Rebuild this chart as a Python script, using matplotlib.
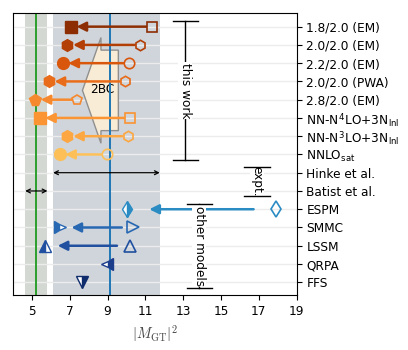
import matplotlib
matplotlib.use('Agg')
import matplotlib.pyplot as plt
from matplotlib.patches import Polygon
import numpy as np

plt.rcParams['mathtext.fontset'] = 'cm'

labels = ['1.8/2.0 (EM)', '2.0/2.0 (EM)', '2.2/2.0 (EM)', '2.0/2.0 (PWA)',
          '2.8/2.0 (EM)', r'NN-N$^\mathregular{4}$LO+3N$_\mathregular{lnl}$',
          r'NN-N$^\mathregular{3}$LO+3N$_\mathregular{lnl}$',
          r'NNLO$_\mathregular{sat}$', 'Hinke et al.', 'Batist et al.',
          'ESPM', 'SMMC', 'LSSM', 'QRPA', 'FFS']

# this work: without 2BC (open) -> with 2BC (filled)
work_no2bc = [11.33, 10.73, 10.12, 9.94, 7.40, 10.18, 10.07, 8.95]
work_2bc = [7.06, 6.88, 6.63, 5.90, 5.17, 5.40, 6.88, 6.46]
work_markers = ['s', 'h', 'o', 'h', 'p', 's', 'h', 'o']
work_colors = ['#8c2d04', '#b33f06', '#d9560d', '#e86c1a', '#f6892e',
               '#fb9433', '#fca741', '#fdc058']

# experiment
hinke_lo, hinke_hi, hinke_val = 6.12, 11.76, 9.13
batist_lo, batist_hi, batist_val = 4.64, 5.82, 5.23

# other models
other_rows = [10, 11, 12, 13, 14]
other_bare = [17.9, 10.34, 10.16, np.nan, np.nan]
other_quenched = [10.03, 6.50, 5.70, 8.97, 7.63]
other_markers = ['d', '>', '^', '<', 'v']
other_fill = ['right', 'left', 'left', 'right', 'right']
other_colors = ['#2b8cc4', '#2868b2', '#20509f', '#1c3c8c', '#0f2c6c']
other_shrink = [16, 8, 9, 0, 0]

fig = plt.figure(figsize=(4.08, 3.5), dpi=100)
ax = fig.add_axes([0.032, 0.157, 0.695, 0.807])

rows = np.arange(len(labels))

# bands and lines
ax.axvspan(batist_lo, batist_hi, color='#d3d9d2', zorder=0, lw=0)
ax.axvspan(hinke_lo, hinke_hi, color='#d0d5db', zorder=0, lw=0)
for r in rows:
    ax.axhline(r, color='#ececec', lw=1, zorder=0.5)
ax.axvline(batist_val, color='#2ca02c', lw=1.4, zorder=2)
ax.axvline(hinke_val, color='#1f77b4', lw=1.4, zorder=2)

# 2BC arrow (tail at right, tip at left)
tail_x, tip_x, head_len = 9.57, 7.67, 0.98
cy, body_w, head_w = 3.49, 4.41, 5.79
neck_x = tip_x + head_len
verts = [(tail_x, cy - body_w / 2), (neck_x, cy - body_w / 2),
         (neck_x, cy - head_w / 2), (tip_x, cy), (neck_x, cy + head_w / 2),
         (neck_x, cy + body_w / 2), (tail_x, cy + body_w / 2)]
ax.add_patch(Polygon(verts, closed=True, facecolor='#f9ecd6',
                     edgecolor='#8f8f8f', lw=1, zorder=1))
ax.text(8.72, 3.45, '2BC', ha='center', va='center', fontsize=8.7, zorder=1.5)

arrow_kw = dict(arrowstyle='-|>,head_length=0.4,head_width=0.2', lw=1.8,
                mutation_scale=14)

for i in range(len(work_2bc)):
    c = work_colors[i]
    ax.annotate('', xy=(work_2bc[i], i), xytext=(work_no2bc[i], i),
                arrowprops=dict(color=c, shrinkA=4, shrinkB=4, **arrow_kw), zorder=3)
    ax.plot(work_no2bc[i], i, marker=work_markers[i], ms=7.5, mfc='none',
            mec=c, mew=1.2, zorder=4)
    ax.plot(work_2bc[i], i, marker=work_markers[i], ms=8.5, color=c, zorder=4)

for j, r in enumerate(other_rows):
    c = other_colors[j]
    if not np.isnan(other_bare[j]):
        ax.annotate('', xy=(other_quenched[j], r), xytext=(other_bare[j], r),
                    arrowprops=dict(color=c, shrinkA=other_shrink[j],
                                    shrinkB=other_shrink[j], **arrow_kw), zorder=3)
        ax.plot(other_bare[j], r, marker=other_markers[j], ms=8, mfc='none',
                mec=c, mew=1.2, zorder=4)
    ax.plot(other_quenched[j], r, marker=other_markers[j], ms=8, color=c,
            fillstyle=other_fill[j], markerfacecoloralt='white', zorder=4)

# experimental ranges
dbl = dict(arrowstyle='<->', color='black', lw=0.9, mutation_scale=7,
           shrinkA=0, shrinkB=0)
ax.annotate('', xy=(hinke_lo, 8), xytext=(hinke_hi, 8), arrowprops=dbl, zorder=3)
ax.annotate('', xy=(batist_lo, 9), xytext=(batist_hi, 9), arrowprops=dbl, zorder=3)

# group brackets
def bracket(x, y0, y1, half, text):
    ax.plot([x, x], [y0, y1], color='black', lw=1, zorder=5)
    ax.plot([x - half, x + half], [y0, y0], color='black', lw=1, zorder=6)
    ax.plot([x - half, x + half], [y1, y1], color='black', lw=1, zorder=6)
    ax.text(x, (y0 + y1) / 2, text, rotation=270, ha='center', va='center',
            fontsize=8.7, zorder=5.5,
            bbox=dict(facecolor='white', edgecolor='none', pad=0.5))

bracket(13.1, -0.32, 7.32, 0.66, 'this work')
bracket(16.9, 7.68, 9.3, 0.68, 'expt.')
bracket(13.85, 9.7, 14.32, 0.67, 'other models')

ax.set_xlim(4, 19)
ax.set_ylim(14.7, -0.77)
ax.set_xticks(np.arange(5, 20, 2))
ax.set_yticks(rows)
ax.set_yticklabels(labels)
ax.yaxis.tick_right()
ax.tick_params(axis='both', labelsize=8.7, length=3.5, width=0.8)
ax.set_xlabel(r'$|M_{\rm GT}|^2$', fontsize=10.5, color='#444444')

plt.savefig('out.png', dpi=100)
